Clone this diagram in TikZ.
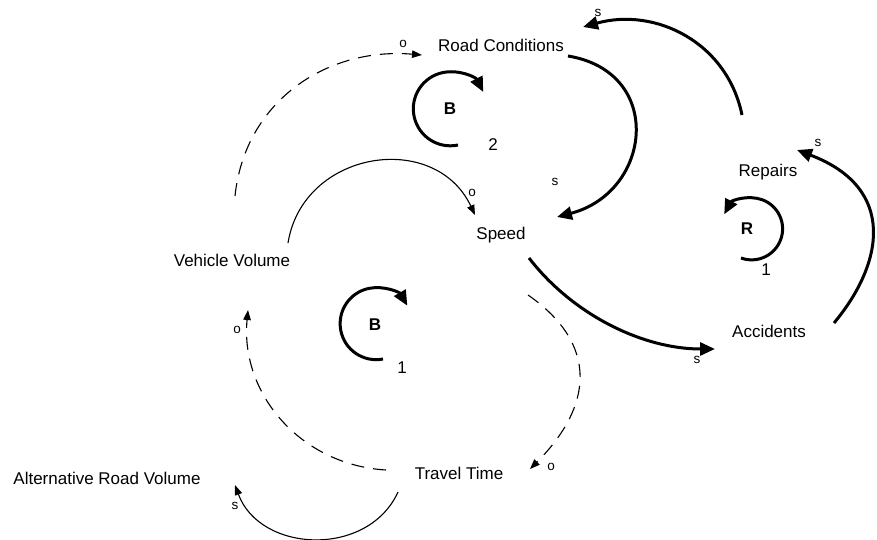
\documentclass[tikz,border=0pt]{standalone}
\usepackage{fontspec}
\setmainfont{Liberation Sans}
\usetikzlibrary{arrows.meta}
\begin{document}
\begin{tikzpicture}[x=1pt,y=-1pt,
  lbl/.style={font=\fontsize{17}{20}\selectfont, inner sep=0pt, anchor=base},
  sml/.style={font=\fontsize{13.5}{15}\selectfont, inner sep=0pt, anchor=base},
  loopnum/.style={font=\fontsize{17}{20}\selectfont, inner sep=0pt, anchor=base},
  loopltr/.style={font=\fontsize{17}{20}\selectfont\bfseries, inner sep=0pt, anchor=base},
  strong/.style={line width=3pt, -{Triangle[length=15pt,width=13pt]}},
  weak/.style={line width=1.1pt, -{Triangle[length=10pt,width=7.5pt]}},
  dashlink/.style={line width=1.1pt, dash pattern=on 13pt off 9pt, -{Triangle[length=10pt,width=7.5pt]}},
  fbloop/.style={line width=3pt, -{Triangle[length=15pt,width=13pt]}}
]
\useasboundingbox (0,0) rectangle (877,540);

% variables
\node[lbl] (rc) at (501,52) {Road Conditions};
\node[lbl] (sp) at (501,239) {Speed};
\node[lbl] (vv) at (232,266) {Vehicle Volume};
\node[lbl] (rp) at (768,177) {Repairs};
\node[lbl] (ac) at (769,337) {Accidents};
\node[lbl] (tt) at (459,479) {Travel Time};
\node[lbl] (arv) at (107,484) {Alternative Road Volume};

% connector end points
\coordinate (vvA) at (235,196);   \coordinate (rcIn) at (422,55);
\coordinate (rcOut) at (568,56);  \coordinate (spIn) at (557,217);
\coordinate (rpOut) at (742,115); \coordinate (rcIn2) at (583,27);
\coordinate (spOut) at (529,258); \coordinate (acIn) at (715,349);
\coordinate (acOut) at (834,323); \coordinate (rpIn) at (797,150);
\coordinate (vvOut) at (288,243); \coordinate (spIn2) at (475,215);
\coordinate (spOut2) at (528,295); \coordinate (ttIn) at (530,469);
\coordinate (ttOut) at (386,470); \coordinate (vvIn) at (248,310);
\coordinate (ttOut2) at (398,492); \coordinate (arvIn) at (235,485);

% connectors
\draw[dashlink] (vvA) .. controls +(10,-95) and +(-95,-8) .. (rcIn);
\draw[strong] (rcOut) .. controls +(97,16) and +(95,-25) .. (spIn);
\draw[strong] (rpOut) .. controls +(-15,-73) and +(72,-20) .. (rcIn2);
\draw[strong] (spOut) .. controls +(44,57) and +(-72,0) .. (acIn);
\draw[strong] (acOut) .. controls +(50,-60) and +(100,38) .. (rpIn);
\draw[weak] (vvOut) .. controls +(15,-93) and +(-40,-85) .. (spIn2);
\draw[dashlink] (spOut2) .. controls +(72,50) and +(62,-62) .. (ttIn);
\draw[dashlink] (ttOut) .. controls +(-85,-5) and +(-8,84) .. (vvIn);
\draw[weak] (ttOut2) .. controls +(-30,66) and +(25,68) .. (arvIn);

% polarity labels
\node[sml] (p1) at (403,47.5) {o};
\node[sml] (p2) at (555,185.5) {s};
\node[sml] (p3) at (598,16.5) {s};
\node[sml] (p4) at (697,363.5) {s};
\node[sml] (p5) at (818,146.5) {s};
\node[sml] (p6) at (472,196.5) {o};
\node[sml] (p7) at (551,470.5) {o};
\node[sml] (p8) at (237,333.5) {o};
\node[sml] (p9) at (235,509.5) {s};

% loop markers
\draw[fbloop] (458,145) arc[start angle=78, end angle=333, radius=37];
\node[loopltr] (b2) at (450,115) {B};
\node[loopnum] (n2) at (493,150) {2};
\draw[fbloop] (383,359) arc[start angle=79, end angle=330, radius=36];
\node[loopltr] (b1) at (375,330) {B};
\node[loopnum] (n1) at (402,373) {1};
\draw[fbloop] (741,258) arc[start angle=110, end angle=-152, radius=31];
\node[loopltr] (r1) at (747,234) {R};
\node[loopnum] (m1) at (766,275) {1};
\end{tikzpicture}
\end{document}
